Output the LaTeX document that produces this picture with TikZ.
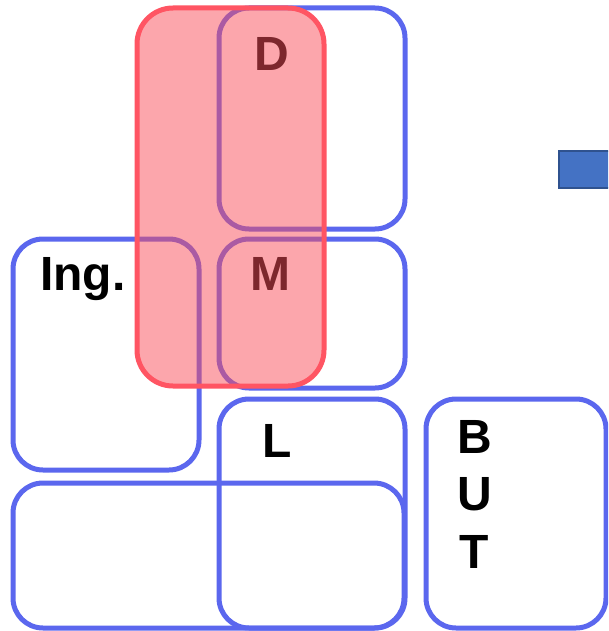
\documentclass[tikz,border=0pt]{standalone}
\usepackage{fontspec}
\setmainfont{Liberation Sans}
\definecolor{bluebox}{RGB}{91,103,238}
\definecolor{redbox}{RGB}{255,85,99}
\definecolor{redfill}{RGB}{250,78,90}
\definecolor{smallfill}{RGB}{68,114,196}
\definecolor{smalledge}{RGB}{47,82,143}
\tikzset{
  bbox/.style={draw=bluebox, line width=5pt, rounded corners=30pt},
  rbox/.style={draw=redbox, line width=5pt, rounded corners=36pt, fill=redfill, fill opacity=0.5},
  lbl/.style={font=\fontsize{48}{57.6}\selectfont\bfseries, inner sep=0pt, text=black}
}
\begin{document}
\begin{tikzpicture}[x=1pt,y=-1pt]
\useasboundingbox (0,0) rectangle (608,631);
\clip (0,0) rectangle (608,631);
% blue boxes
\draw[bbox] (219,8) rectangle (405,229);
\draw[bbox] (219,239) rectangle (405,388);
\draw[bbox] (13,239) rectangle (199,470);
\draw[bbox] (219,399) rectangle (405,628);
\draw[bbox] (13,483) rectangle (404,628);
\draw[bbox] (426,399) rectangle (606,628);
% small filled rectangle
\draw[draw=smalledge, line width=2pt, fill=smallfill] (559,151) rectangle (620,188);
% labels
\node[lbl, anchor=base] (d) at (272,70.5) {D};
\node[lbl, anchor=base] (m) at (270,290.5) {M};
\node[lbl, anchor=base west] (ing) at (40,290.5) {Ing.};
\node[lbl, anchor=base] (l) at (277,457) {L};
\node[lbl, anchor=base] (b) at (475,453) {B};
\node[lbl, anchor=base] (u) at (475,510.5) {U};
\node[lbl, anchor=base] (t) at (474,568) {T};
% red overlay
\draw[rbox, draw opacity=1] (137,8) rectangle (324,386);
\end{tikzpicture}
\end{document}
